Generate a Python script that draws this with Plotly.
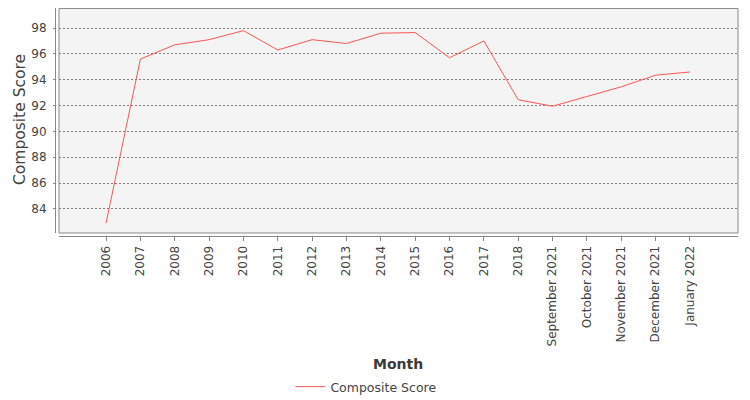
import plotly.graph_objects as go

# categories on the x axis (years, then monthly points)
months = ["2006", "2007", "2008", "2009", "2010", "2011", "2012", "2013",
          "2014", "2015", "2016", "2017", "2018",
          "September 2021", "October 2021", "November 2021",
          "December 2021", "January 2022"]

# composite score
composite_score = [82.9, 95.6, 96.7, 97.1, 97.8, 96.3, 97.1, 96.8,
                   97.6, 97.65, 95.7, 97.0, 92.45,
                   91.95, 92.7, 93.45, 94.35, 94.6]

y_ticks = [84, 86, 88, 90, 92, 94, 96, 98]

FONT = "DejaVu Sans"
TXT = "#444444"
AXIS = "#888888"

fig = go.Figure()
fig.add_trace(go.Scatter(
    x=months, y=composite_score,
    mode="lines", name="Composite Score",
    line=dict(color="#FF5555", width=1),
))

# page body has an 8px margin, so the figure is a bit smaller than the window
# small gap between plot border and axes, like the original
fig.update_layout(
    width=742, height=392,
    margin=dict(l=47, r=12, t=0, b=164),
    paper_bgcolor="white",
    plot_bgcolor="#F4F4F4",
    font=dict(family=FONT, size=12, color=TXT),
    showlegend=True,
    legend=dict(
        orientation="h",
        xref="container", yref="container",
        x=0.483, y=1 - 379 / 392, xanchor="center", yanchor="middle",
        font=dict(family=FONT, size=12.5, color=TXT),
    ),
    xaxis=dict(
        type="category",
        domain=[0.00586, 1],
        anchor="free", position=0,
        range=[-1.37, 18.4],
        tickangle=-90,
        ticks="outside", ticklen=4, tickcolor=AXIS,
        showline=True, linecolor=AXIS, linewidth=1,
        showgrid=False, zeroline=False,
        tickfont=dict(family=FONT, size=12, color=TXT),
    ),
    yaxis=dict(
        domain=[0.0132, 1],
        anchor="free", position=0,
        range=[82.14, 99.55],
        tickvals=y_ticks,
        ticks="outside", ticklen=2, tickcolor=AXIS,
        showline=True, linecolor=AXIS, linewidth=1,
        showgrid=True, gridcolor="#808080", gridwidth=0.6, griddash="2px,2px",
        zeroline=False,
        ticklabelstandoff=4,
        tickfont=dict(family=FONT, size=12, color=TXT),
    ),
)

# plot border
fig.add_shape(type="rect", xref="paper", yref="paper",
              x0=0.00586, x1=1, y0=0.0132, y1=0.998,
              line=dict(color=AXIS, width=1), layer="above")

# axis titles
fig.add_annotation(text="Month", xref="paper", yref="paper",
                   x=(398 - 55) / 683, y=-(364 - 236) / 228,
                   xanchor="center", yanchor="middle", showarrow=False,
                   font=dict(family=FONT, size=14, color="#3a3a3a", weight="bold"))
fig.add_annotation(text="Composite Score", xref="paper", yref="paper",
                   x=(20 - 55) / 683, y=(236 - 120) / 228, textangle=-90,
                   xanchor="center", yanchor="middle", showarrow=False,
                   font=dict(family=FONT, size=15.5, color=TXT))

fig.write_html("out.html")
